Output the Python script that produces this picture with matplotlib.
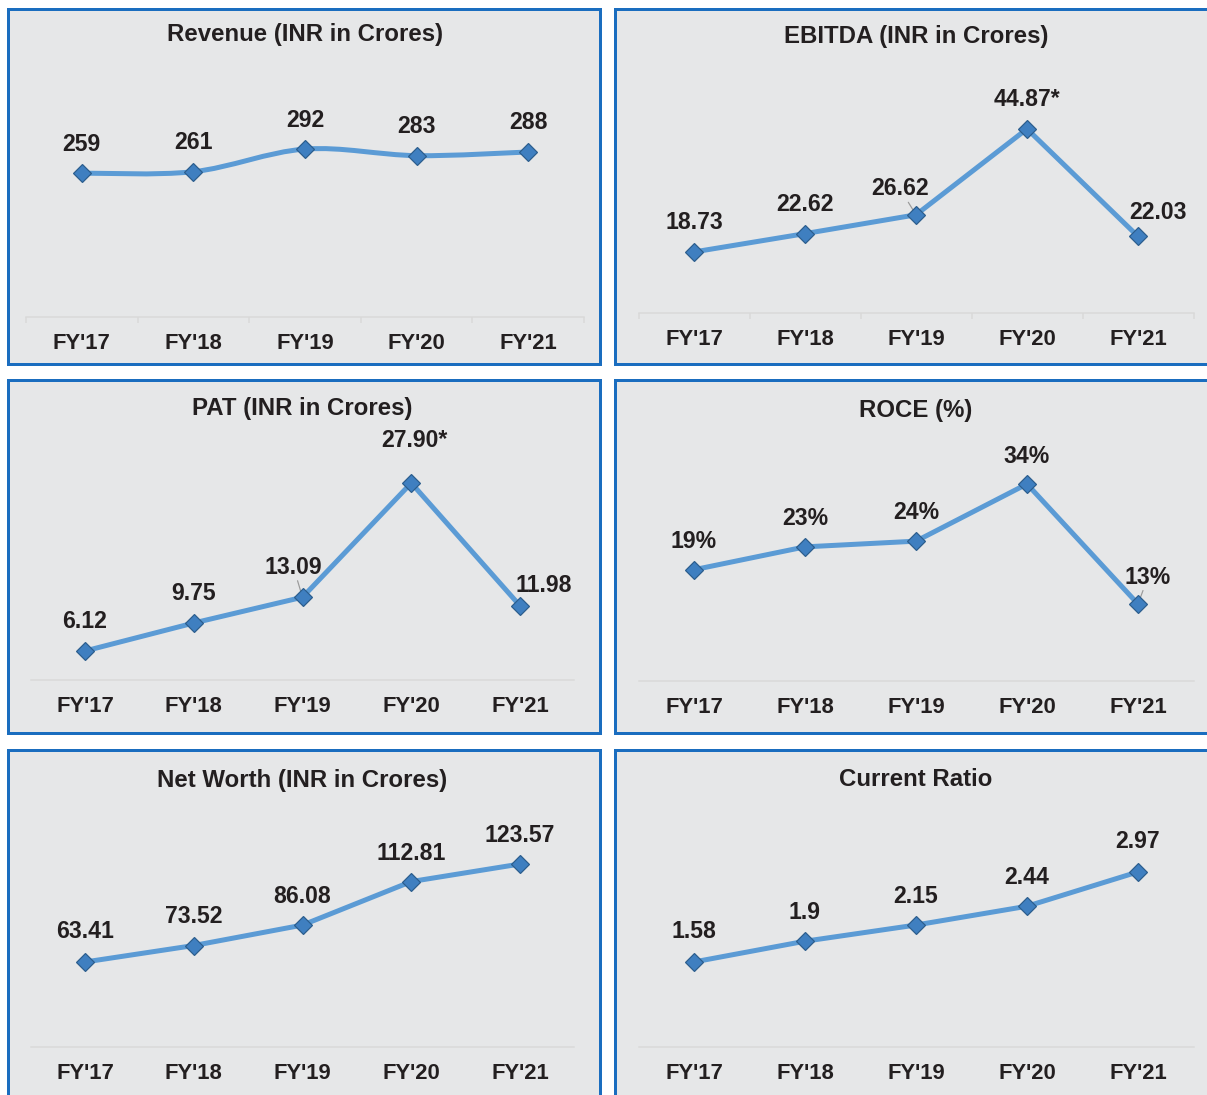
import numpy as np
import matplotlib.pyplot as plt
from matplotlib.path import Path
from matplotlib.patches import PathPatch

plt.rcParams['font.family'] = ['Liberation Sans', 'DejaVu Sans']

years = ["FY'17", "FY'18", "FY'19", "FY'20", "FY'21"]

revenue = [259, 261, 292, 283, 288]
revenue_labels = ["259", "261", "292", "283", "288"]

ebitda = [18.73, 22.62, 26.62, 44.87, 22.03]
ebitda_labels = ["18.73", "22.62", "26.62", "44.87*", "22.03"]

pat = [6.12, 9.75, 13.09, 27.90, 11.98]
pat_labels = ["6.12", "9.75", "13.09", "27.90*", "11.98"]

roce = [19, 23, 24, 34, 13]
roce_labels = ["19%", "23%", "24%", "34%", "13%"]

net_worth = [63.41, 73.52, 86.08, 112.81, 123.57]
net_worth_labels = ["63.41", "73.52", "86.08", "112.81", "123.57"]

current_ratio = [1.58, 1.9, 2.15, 2.44, 2.97]
current_ratio_labels = ["1.58", "1.9", "2.15", "2.44", "2.97"]

W, H = 1207, 1095
BG = '#E6E7E8'
BORDER = '#1A6DBF'
LINE = '#5B9BD5'
TXT = '#231F20'
FS = 23

fig = plt.figure(figsize=(W / 72, H / 72), dpi=72)
fig.patch.set_facecolor('white')


def px_axes(x0, y0, x1, y1, **kw):
    # axes placed by pixel box (top-left origin)
    return fig.add_axes([x0 / W, 1 - y1 / H, (x1 - x0) / W, (y1 - y0) / H], **kw)


def smooth_path(xs, ys, t=1 / 6):
    # Catmull-Rom style bezier through the points
    pts = np.column_stack([xs, ys]).astype(float)
    verts = [pts[0]]
    codes = [Path.MOVETO]
    n = len(pts)
    for i in range(n - 1):
        p0 = pts[max(i - 1, 0)]
        p1 = pts[i]
        p2 = pts[i + 1]
        p3 = pts[min(i + 2, n - 1)]
        c1 = p1 + (p2 - p0) * t
        c2 = p2 - (p3 - p1) * t
        verts += [c1, c2, p2]
        codes += [Path.CURVE4] * 3
    return Path(verts, codes)


def panel(frame, inner, title, title_y, values, labels, ylim, offsets,
          ticks=False, smooth=False, leaders=()):
    fx0, fy0, fx1, fy1 = frame
    fa = px_axes(fx0, fy0, fx1, fy1)
    fa.set_facecolor(BG)
    fa.set_xticks([])
    fa.set_yticks([])
    for s in fa.spines.values():
        s.set_color(BORDER)
        s.set_linewidth(3)
    fa.set_xlim(fx0, fx1)
    fa.set_ylim(fy1, fy0)
    cx = (inner[0] + inner[2]) / 2
    fa.text(cx, title_y, title, ha='center', va='center', fontsize=FS + 1,
            fontweight='bold', color=TXT)

    ix0, iy0, ix1, iy1 = inner
    ax = px_axes(ix0, iy0, ix1, iy1)
    ax.patch.set_alpha(0)
    x = np.arange(len(values))
    ax.set_xlim(-0.5, len(values) - 0.5)
    ax.set_ylim(*ylim)
    for s in ['left', 'right', 'top']:
        ax.spines[s].set_visible(False)
    ax.spines['bottom'].set_color('#D9D9D9')
    ax.spines['bottom'].set_linewidth(1.5)
    ax.set_yticks([])
    ax.set_xticks(x)
    ax.set_xticklabels(years, fontsize=FS - 1, fontweight='bold', color=TXT)
    ax.tick_params(axis='x', length=0, pad=16)
    if ticks:
        ax.set_xticks(np.arange(-0.5, len(values)), minor=True)
        ax.tick_params(axis='x', which='minor', length=6, width=1.5,
                       color='#D9D9D9')

    if smooth:
        ax.add_patch(PathPatch(smooth_path(x, values), fill=False,
                               edgecolor=LINE, lw=5, capstyle='round',
                               zorder=2))
    else:
        ax.plot(x, values, color=LINE, lw=5, solid_capstyle='round', zorder=2)
    ax.plot(x, values, ls='none', marker='D', ms=13, mfc='#3F7FC0',
            mec='#2B5D8C', mew=1.2, zorder=3)

    for i, (v, lab, off) in enumerate(zip(values, labels, offsets)):
        if i in leaders:
            ax.annotate(lab, (x[i], v), xytext=off, textcoords='offset points',
                        ha='center', va='center', fontsize=FS,
                        fontweight='bold', color=TXT,
                        arrowprops=dict(arrowstyle='-', color='#9A9A9A',
                                        lw=1.2, shrinkA=0, shrinkB=2),
                        zorder=1)
        else:
            ax.annotate(lab, (x[i], v), xytext=off, textcoords='offset points',
                        ha='center', va='center', fontsize=FS,
                        fontweight='bold', color=TXT)
    return ax


LEFT = (7.5, 599.5)
RIGHT = (614.5, 1225)
ROWS = [(9, 364), (380, 733), (750, 1115)]

# Revenue
panel((LEFT[0], ROWS[0][0], LEFT[1], ROWS[0][1]), (26, 60, 584, 317),
      'Revenue (INR in Crores)', 34, revenue, revenue_labels, (62, 414),
      [(0, 29)] * 5, ticks=True, smooth=True)

# EBITDA
panel((RIGHT[0], ROWS[0][0], RIGHT[1], ROWS[0][1]), (638.5, 60, 1193.5, 313),
      'EBITDA (INR in Crores)', 37, ebitda, ebitda_labels, (5.76, 59.5),
      [(0, 29), (0, 29), (-16, 26), (0, 29), (20, 24)], ticks=True,
      leaders=(2,))

# PAT
panel((LEFT[0], ROWS[1][0], LEFT[1], ROWS[1][1]), (30.6, 430, 574.4, 680),
      'PAT (INR in Crores)', 408, pat, pat_labels, (2.36, 34.77),
      [(0, 29), (0, 29), (-9, 30), (3, 42), (24, 20)], leaders=(2,))

# ROCE
panel((RIGHT[0], ROWS[1][0], RIGHT[1], ROWS[1][1]), (638.5, 430, 1193.5, 681),
      'ROCE (%)', 410, roce, roce_labels, (-0.47, 43.45),
      [(0, 28), (0, 28), (0, 29), (0, 28), (10, 27)], leaders=(4,))

# Net Worth
panel((LEFT[0], ROWS[2][0], LEFT[1], ROWS[2][1]), (30.6, 800, 574.4, 1047),
      'Net Worth (INR in Crores)', 780, net_worth, net_worth_labels,
      (11.2, 162.9), [(0, 30), (0, 29), (0, 29), (0, 28), (0, 29)])

# Current Ratio
panel((RIGHT[0], ROWS[2][0], RIGHT[1], ROWS[2][1]), (638.5, 800, 1193.5, 1047),
      'Current Ratio', 780, current_ratio, current_ratio_labels,
      (0.267, 4.08), [(0, 30), (0, 29), (0, 29), (0, 29), (0, 30)])

fig.savefig('out.png', dpi=72, facecolor='white')
